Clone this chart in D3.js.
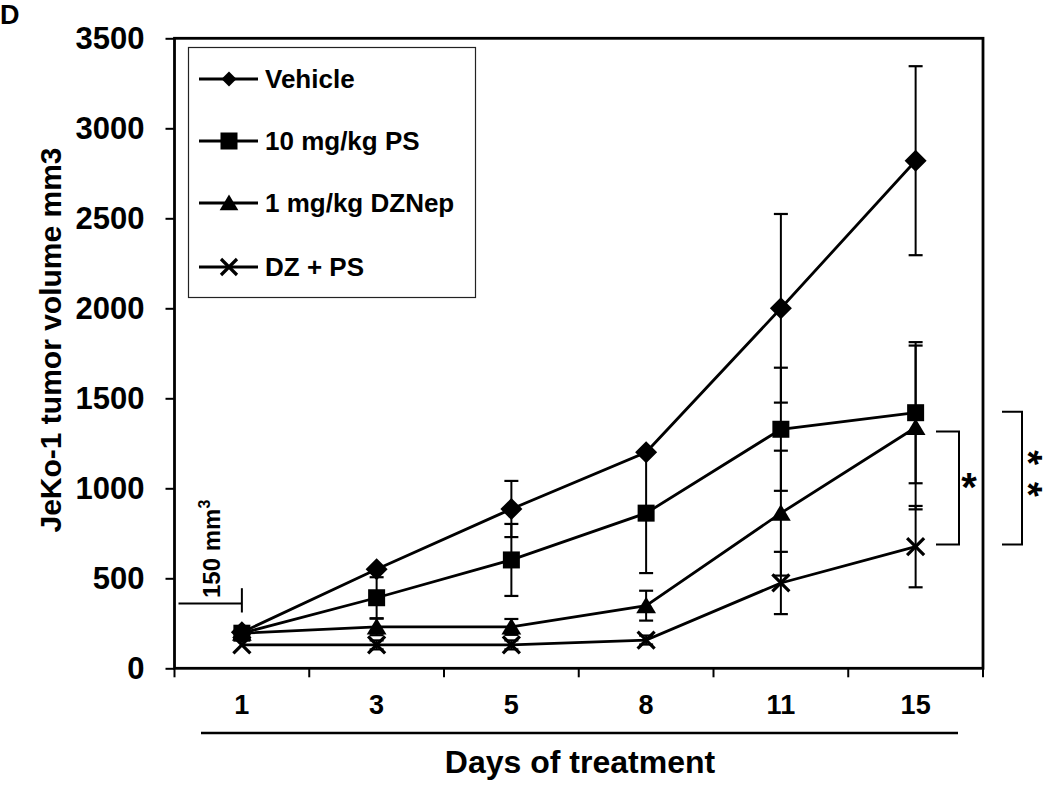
<!DOCTYPE html>
<html>
<head>
<meta charset="utf-8">
<script src="https://cdn.jsdelivr.net/npm/d3@7"></script>
<style>
  html, body { margin: 0; padding: 0; background: #fff; }
  svg { display: block; }
  text { font-family: "Liberation Sans", Arial, sans-serif; font-weight: bold; fill: #000; }
</style>
</head>
<body>
<svg id="chart" width="1050" height="786"></svg>
<script>
// ---- data ----
const days = ["1", "3", "5", "8", "11", "15"];
const seriesNames = ["Vehicle", "10 mg/kg PS", "1 mg/kg DZNep", "DZ + PS"];
const vehicle    = [200, 550, 885, 1200, 2000, 2820];
const vehicleErr = [0, 0, 156, 0, 524, 525];
const ps         = [195, 392, 602, 862, 1328, 1420];
const psErr      = [0, 114, 200, 333, 342, 392];
const dznep      = [195, 230, 230, 348, 862, 1338];
const dznepErr   = [0, 46, 44, 83, 347, 455];
const dzps       = [130, 130, 130, 157, 474, 676];
const dzpsErr    = [0, 25, 25, 25, 173, 226];
const yTicks = [0, 500, 1000, 1500, 2000, 2500, 3000, 3500];
const markers = ["diamond", "square", "triangle", "cross"];
// annotation values
const baselineMark = { day: "1", level: 360, top: 445, bottom: 310, label: "150 mm", sup: "3" };
const sigInner = { top: 1315, bottom: 688, label: "*" };
const sigOuter = { top: 1425, bottom: 688, label: "**" };

const seriesVals = [vehicle, ps, dznep, dzps];
const seriesErrs = [vehicleErr, psErr, dznepErr, dzpsErr];

// ---- layout ----
const L = 174.5, R = 983, T = 38.3, B = 668.3;
const svg = d3.select("#chart");

const x = d3.scaleBand().domain(days).range([L, R]).paddingInner(0).paddingOuter(0);
const cx = d => x(d) + x.bandwidth() / 2;
const y = d3.scaleLinear().domain([0, 3500]).range([B, T]);

// panel letter
svg.append("text").attr("x", 0).attr("y", 24).style("font-size", "27px").text("D");

// Y axis
const yAxis = d3.axisLeft(y).tickValues(yTicks).tickFormat(d3.format("d"))
  .tickSize(9).tickPadding(21).tickSizeOuter(0);
const gy = svg.append("g").attr("transform", `translate(${L},0)`).call(yAxis);
gy.select(".domain").remove();
gy.selectAll(".tick line").attr("stroke", "#000").attr("stroke-width", 2);
gy.selectAll(".tick text").style("font-size", "31px").style("font-family", '"Liberation Sans", Arial, sans-serif').style("font-weight", "bold").attr("fill", "#000");

// X axis labels
const xAxis = d3.axisBottom(x).tickSize(0).tickPadding(27).tickSizeOuter(0);
const gx = svg.append("g").attr("transform", `translate(0,${B})`).call(xAxis);
gx.select(".domain").remove();
gx.selectAll(".tick text").style("font-size", "27px").style("font-family", '"Liberation Sans", Arial, sans-serif').style("font-weight", "bold").attr("fill", "#000");

// X boundary ticks
const bounds = days.map(d => x(d)).concat([x(days[days.length - 1]) + x.bandwidth()]);
svg.append("g").selectAll("line").data(bounds).join("line")
  .attr("x1", d => d).attr("x2", d => d).attr("y1", B).attr("y2", B + 9)
  .attr("stroke", "#000").attr("stroke-width", 2);

// frame
svg.append("rect").attr("x", L).attr("y", T).attr("width", R - L).attr("height", B - T)
  .attr("fill", "none").attr("stroke", "#000").attr("stroke-width", 2.8);

// Y title
svg.append("text").attr("transform", "translate(61,340) rotate(-90)")
  .attr("text-anchor", "middle").style("font-size", "30px").text("JeKo-1 tumor volume mm3");

// X title decoration line & title
svg.append("line").attr("x1", 201).attr("x2", 958).attr("y1", 733).attr("y2", 733)
  .attr("stroke", "#000").attr("stroke-width", 2.5);
svg.append("text").attr("x", 580).attr("y", 773).attr("text-anchor", "middle")
  .style("font-size", "32px").text("Days of treatment");

// marker drawing
function drawMarker(g, type, px, py, s) {
  if (type === "diamond") {
    g.append("path").attr("d", `M${px},${py - s}L${px + s},${py}L${px},${py + s}L${px - s},${py}Z`).attr("fill", "#000");
  } else if (type === "square") {
    g.append("rect").attr("x", px - s).attr("y", py - s).attr("width", 2 * s).attr("height", 2 * s).attr("fill", "#000");
  } else if (type === "triangle") {
    g.append("path").attr("d", `M${px},${py - s * 1.0}L${px + s * 1.1},${py + s * 0.85}L${px - s * 1.1},${py + s * 0.85}Z`).attr("fill", "#000");
  } else {
    g.append("path").attr("d", `M${px - s},${py - s}L${px + s},${py + s}M${px + s},${py - s}L${px - s},${py + s}`)
      .attr("stroke", "#000").attr("stroke-width", 3.2).attr("fill", "none");
  }
}
const plotSize = { diamond: 11, square: 8.5, triangle: 9, cross: 8.5 };
const legSize = { diamond: 7.5, square: 8.5, triangle: 8.5, cross: 8 };

// error bars
const gErr = svg.append("g");
seriesVals.forEach((vals, si) => {
  vals.forEach((v, i) => {
    const e = seriesErrs[si][i];
    if (!e) return;
    const px = cx(days[i]);
    gErr.append("line").attr("x1", px).attr("x2", px).attr("y1", y(v - e)).attr("y2", y(v + e))
      .attr("stroke", "#000").attr("stroke-width", 2);
    [v - e, v + e].forEach(w => {
      gErr.append("line").attr("x1", px - 7).attr("x2", px + 7).attr("y1", y(w)).attr("y2", y(w))
        .attr("stroke", "#000").attr("stroke-width", 2.2);
    });
  });
});

// lines
const line = d3.line().x((d, i) => cx(days[i])).y(d => y(d));
const gLines = svg.append("g");
seriesVals.forEach(vals => {
  gLines.append("path").attr("d", line(vals)).attr("fill", "none").attr("stroke", "#000").attr("stroke-width", 2.8);
});

// markers
const gMarks = svg.append("g");
seriesVals.forEach((vals, si) => {
  vals.forEach((v, i) => drawMarker(gMarks, markers[si], cx(days[i]), y(v), plotSize[markers[si]]));
});

// legend
const leg = svg.append("g");
leg.append("rect").attr("x", 188.5).attr("y", 47.5).attr("width", 287).attr("height", 250)
  .attr("fill", "#fff").attr("stroke", "#222").attr("stroke-width", 1.2);
const legY = [79, 141, 203, 267];
seriesNames.forEach((name, i) => {
  leg.append("line").attr("x1", 199).attr("x2", 258).attr("y1", legY[i]).attr("y2", legY[i])
    .attr("stroke", "#000").attr("stroke-width", 2.8);
  drawMarker(leg, markers[i], 229, legY[i], legSize[markers[i]]);
  leg.append("text").attr("x", 265).attr("y", legY[i] + 9).style("font-size", "26px").text(name);
});

// baseline annotation (150 mm3)
const bx = cx(baselineMark.day);
svg.append("line").attr("x1", L + 4).attr("x2", bx).attr("y1", y(baselineMark.level)).attr("y2", y(baselineMark.level))
  .attr("stroke", "#000").attr("stroke-width", 2);
svg.append("line").attr("x1", bx).attr("x2", bx).attr("y1", y(baselineMark.top)).attr("y2", y(baselineMark.bottom))
  .attr("stroke", "#000").attr("stroke-width", 2);
const ann = svg.append("text").attr("transform", "translate(220,598) rotate(-90)").style("font-size", "24px");
ann.append("tspan").text(baselineMark.label);
ann.append("tspan").attr("dy", -10).style("font-size", "16px").text(baselineMark.sup);

// significance brackets
function bracket(x1, x2, top, bottom) {
  svg.append("path").attr("d", `M${x1},${y(top)}H${x2}V${y(bottom)}H${x1}`)
    .attr("fill", "none").attr("stroke", "#000").attr("stroke-width", 2);
}
bracket(936, 959, sigInner.top, sigInner.bottom);
bracket(1002, 1022, sigOuter.top, sigOuter.bottom);
svg.append("text").attr("x", 969).attr("y", 501).attr("text-anchor", "middle").style("font-size", "40px").text(sigInner.label);
// two stacked stars written as one vertical text
svg.append("text").attr("transform", "translate(1015,482) rotate(90)")
  .attr("text-anchor", "middle").style("font-size", "38px").style("letter-spacing", "17px")
  .text(sigOuter.label);
</script>
</body>
</html>
